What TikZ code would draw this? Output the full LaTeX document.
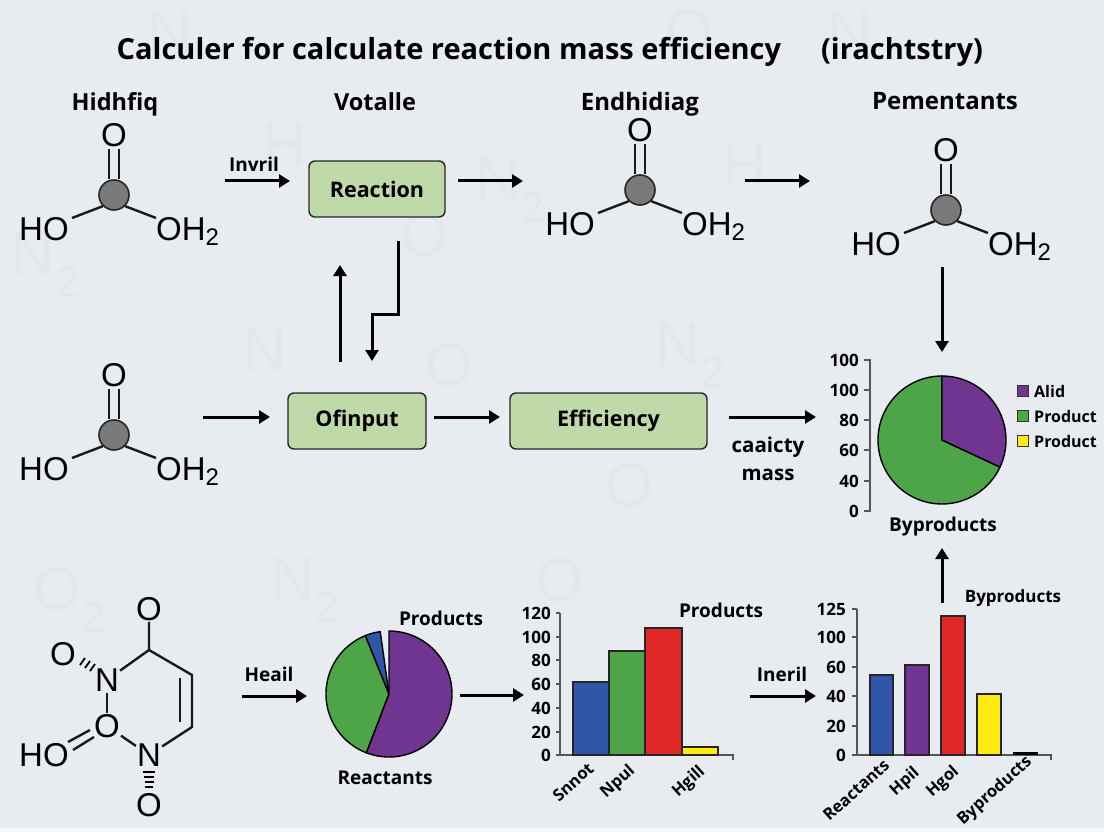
\documentclass[tikz,border=0pt]{standalone}
\usepackage{fontspec}
\setmainfont{Open Sans}
\newfontfamily\atomfont{Liberation Sans}
\usetikzlibrary{arrows.meta}
\definecolor{bgc}{HTML}{E8ECF0}
\definecolor{ghost}{HTML}{E3E7EB}
\definecolor{boxg}{HTML}{BFD9A8}
\definecolor{pur}{HTML}{6F3590}
\definecolor{grn}{HTML}{4EA548}
\definecolor{redd}{HTML}{E02828}
\definecolor{blu}{HTML}{2F56A8}
\definecolor{yel}{HTML}{FFEB10}
\definecolor{axisc}{HTML}{555555}
\definecolor{atomc}{HTML}{7A7A7A}
\tikzset{
  x=1pt,y=-1pt,
  arr/.style={line width=3pt,draw=black,-{Triangle[length=11pt,width=13pt]}},
  flowbox/.style={draw=black!85,line width=1.4pt,fill=boxg,rounded corners=6pt,minimum height=56pt,font=\fontsize{21.5}{24}\selectfont\bfseries,inner sep=0pt},
  lab/.style={font=\fontsize{19}{21}\selectfont\bfseries,inner sep=0pt},
  small/.style={font=\fontsize{17}{19}\selectfont\bfseries,inner sep=0pt},
  head/.style={font=\fontsize{23.5}{26}\selectfont\bfseries,inner sep=0pt,anchor=base},
  titletxt/.style={font=\fontsize{29}{32}\selectfont\bfseries,inner sep=0pt,anchor=base},
  tick/.style={font=\fontsize{17}{19}\selectfont\bfseries,inner sep=0pt,anchor=east},
  legtxt/.style={font=\fontsize{16}{18}\selectfont\bfseries,inner sep=0pt,anchor=west},
  rot/.style={font=\fontsize{16.5}{18}\selectfont\bfseries,inner sep=0pt,rotate=42},
  atom/.style={font=\atomfont\fontsize{33}{35}\selectfont,inner sep=1pt},
  bond/.style={line width=2.4pt,draw=black!90},
  ghosttxt/.style={font=\atomfont\fontsize{62}{64}\selectfont,text=ghost,inner sep=0pt},
  bar/.style={draw=black!85,line width=1.2pt},
  axisl/.style={draw=axisc,line width=1.2pt},
  carbmol/.pic={
    \node[circle,draw=black!85,line width=1.6pt,fill=atomc,minimum size=30pt,inner sep=0pt] (-c) at (0,0) {};
    \node[atom] (-o) at (0,-60) {O};
    \node[atom] (-l) at (-70,34) {HO};
    \node[atom,anchor=west] (-r) at (41,36) {OH\raisebox{-5pt}{\fontsize{24}{24}\selectfont 2}};
    \draw[bond] ([xshift=-5pt]-c.north) -- ([xshift=-5pt,yshift=-1pt]-o.south);
    \draw[bond] ([xshift=5pt]-c.north) -- ([xshift=5pt,yshift=-1pt]-o.south);
    \draw[bond] (-c.south west) -- (-42,23);
    \draw[bond] (-c.south east) -- (42,23);
  }
}
\begin{document}
\begin{tikzpicture}
\useasboundingbox (0,0) rectangle (1104,832);
\fill[bgc] (0,0) rectangle (1104,832);
\fill[white!50!bgc] (0,828) rectangle (1104,832);
% ghost watermark
\foreach \gid/\gx/\gy/\gt in {g1/170/32/N,g2/45/265/N\textsubscript{2},g3/265/350/N,g4/450/365/O,g5/690/355/N\textsubscript{2},g6/70/600/O\textsubscript{2},g7/305/590/N\textsubscript{2},g8/630/485/O,g9/510/190/N\textsubscript{2},g10/425/235/O,g11/285/145/H,g12/745/165/H,g13/850/32/N,g14/560/580/O,g15/690/32/O}
  \node[ghosttxt] (\gid) at (\gx,\gy) {\gt};
% title
\node[titletxt] (title) at (449,60) {Calculer for calculate reaction mass efficiency};
\node[titletxt] (title2) at (902,60) {(irachtstry)};
% headings
\node[head] (h1) at (115,111) {Hidhfiq};
\node[head] (h2) at (375,111) {Votalle};
\node[head,font=\fontsize{24}{26}\selectfont\bfseries] (h3) at (640,111) {Endhidiag};
\node[head,font=\fontsize{24}{26}\selectfont\bfseries] (h4) at (945,110) {Pementants};
% molecules
\pic (m1) at (114,195) {carbmol};
\pic (m2) at (640,190) {carbmol};
\pic (m3) at (946,210) {carbmol};
\pic (m4) at (114,435) {carbmol};
% boxes
\node[flowbox,minimum width=136pt] (reaction) at (377,189) {Reaction};
\node[flowbox,minimum width=138pt] (ofinput) at (357,421) {Ofinput};
\node[flowbox,minimum width=197pt] (eff) at (608.5,421) {Efficiency};
% free ends
\coordinate (a1s) at (225,181); \coordinate (a1e) at (290,181);
\coordinate (a2s) at (458,181); \coordinate (a2e) at (523,181);
\coordinate (a3s) at (745,181); \coordinate (a3e) at (810,181);
\coordinate (a4s) at (942,267); \coordinate (a4e) at (942,352);
\coordinate (a5s) at (340,362); \coordinate (a5e) at (340,265);
\coordinate (a6s) at (398,241); \coordinate (a6a) at (398,314); \coordinate (a6b) at (372,314); \coordinate (a6e) at (372,361);
\coordinate (a7s) at (203,417); \coordinate (a7e) at (270,417);
\coordinate (a8s) at (434,417); \coordinate (a8e) at (500,417);
\coordinate (a9s) at (729,417); \coordinate (a9e) at (816,417);
\coordinate (a10s) at (942,603); \coordinate (a10e) at (942,548);
\coordinate (a11s) at (242,696); \coordinate (a11e) at (307,696);
\coordinate (a12s) at (460,695); \coordinate (a12e) at (524,695);
\coordinate (a13s) at (750,696); \coordinate (a13e) at (816,696);
\draw[arr] (a1s) -- (a1e);
\draw[arr] (a2s) -- (a2e);
\draw[arr] (a3s) -- (a3e);
\draw[arr] (a4s) -- (a4e);
\draw[arr] (a5s) -- (a5e);
\draw[arr] (a6s) -- (a6a) -- (a6b) -- (a6e);
\draw[arr] (a7s) -- (a7e);
\draw[arr] (a8s) -- (a8e);
\draw[arr] (a9s) -- (a9e);
\draw[arr] (a10s) -- (a10e);
\draw[arr] (a11s) -- (a11e);
\draw[arr] (a12s) -- (a12e);
\draw[arr] (a13s) -- (a13e);
% arrow labels
\node[lab] (linv) at (254,164) {Invril};
\node[lab] (lheail) at (269,674) {Heail};
\node[lab] (liner) at (782,674) {Ineril};
\node[lab,font=\fontsize{20.5}{22}\selectfont\bfseries] (lcap) at (768,447) {caaicty};
\node[lab,font=\fontsize{20.5}{22}\selectfont\bfseries] (lmass) at (768,475) {mass};
% pie top right
\draw[axisl] (864,360) -- (870,360) -- (870,511) -- (864,511);
\foreach \tid/\ty/\tt in {p1/360/100,p2/390/100,p3/420/80,p4/450/60,p5/481/40,p6/511/0}{
  \draw[axisl] (864,\ty) -- (870,\ty);
  \node[tick] (\tid) at (859,\ty) {\tt};
}
\begin{scope}[shift={(942,440)},y=1pt]
  \filldraw[fill=grn,draw=black,line width=1.4pt] (0,0) -- (90:64) arc[start angle=90,end angle=335,radius=64] -- cycle;
  \filldraw[fill=pur,draw=black,line width=1.4pt] (0,0) -- (90:64) arc[start angle=90,end angle=-25,radius=64] -- cycle;
\end{scope}
\foreach \lid/\ly/\lc/\lt in {l1/391/pur/Alid,l2/416/grn/Product,l3/441/yel/Product}{
  \node[draw=black!80,line width=1pt,fill=\lc,minimum size=11pt,inner sep=0pt] (\lid s) at (1023,\ly) {};
  \node[legtxt] (\lid) at (1034,\ly) {\lt};
}
\node[lab] (byp1) at (943,527) {Byproducts};
% lower molecule
\node[atom] (o1) at (149,609) {O};
\node[atom] (o2) at (63,654) {O};
\node[atom] (n1) at (107,680) {N};
\node[atom] (o3) at (107,726) {O};
\node[atom] (ho) at (44,755) {HO};
\node[atom] (n2) at (149,755) {N};
\node[atom] (o4) at (149,805) {O};
\coordinate (c1) at (149,650);
\coordinate (c2) at (192,675);
\coordinate (c3) at (192,727);
\coordinate (d1a) at (68,742); \coordinate (d1b) at (90,730);
\coordinate (d2a) at (73,750); \coordinate (d2b) at (94,737);
\draw[bond] (o1) -- (c1) -- (c2) -- (c3) -- (n2);
\draw[bond] (c1) -- (n1);
\draw[bond] (180,678) -- (180,722);
\draw[bond] (n1) -- (o3);
\draw[bond] (o3) -- (n2);
\draw[bond] (d1a) -- (d1b);
\draw[bond] (d2a) -- (d2b);
\foreach \hy/\hw in {772/6,777/5,782/4.5,787/4}
  \draw[line width=1.8pt] (149-\hw,\hy) -- (149+\hw,\hy);
\draw[line width=1.8pt] (80,665) -- (85,658);
\draw[line width=1.8pt] (85,668) -- (90,661);
\draw[line width=1.8pt] (90,671) -- (95,664);
% small pie
\begin{scope}[shift={(389,694)},y=1pt]
  \filldraw[fill=grn,draw=black,line width=1.4pt] (0,0) -- (249:63) arc[start angle=249,end angle=112,radius=63] -- cycle;
  \filldraw[fill=blu,draw=black,line width=1.4pt] (0,0) -- (112:63) arc[start angle=112,end angle=98,radius=63] -- cycle;
  \filldraw[fill=pur,draw=black,line width=1.4pt] (0,0) -- (90:63) arc[start angle=90,end angle=-111,radius=63] -- cycle;
\end{scope}
\node[lab] (pr1) at (441,618) {Products};
\node[lab] (re1) at (385,778) {Reactants};
% bar chart 1
\foreach \bid/\ty/\tt in {b1/613/120,b2/637/100,b3/660/80,b4/684/60,b5/708/40,b6/732/20,b7/755/0}{
  \draw[axisl] (556,\ty) -- (560,\ty);
  \node[tick] (\bid) at (551,\ty) {\tt};
}
\draw[axisl] (560,613) -- (560,755);
\draw[axisl] (556,755) -- (733,755) -- (733,760);
\filldraw[bar,fill=blu] (573,755) rectangle (609,682);
\filldraw[bar,fill=grn] (609,755) rectangle (645,651);
\filldraw[bar,fill=redd] (645,755) rectangle (682,628);
\filldraw[bar,fill=yel] (682,755) rectangle (718,747);
\node[lab] (pr2) at (721,610) {Products};
\node[rot] (x1) at (573,782) {Snnot};
\node[rot] (x2) at (618,782) {Npul};
\node[rot] (x3) at (689,782) {Hgill};
% bar chart 2
\foreach \cid/\ty/\tt in {c11/609/125,c12/637/100,c13/667/60,c14/696/40,c15/726/20,c16/755/0}{
  \draw[axisl] (852,\ty) -- (857,\ty);
  \node[tick] (\cid) at (846,\ty) {\tt};
}
\draw[axisl] (857,609) -- (857,755);
\draw[axisl] (852,755) -- (1051,755) -- (1051,760);
\filldraw[bar,fill=blu] (870,755) rectangle (893,675);
\filldraw[bar,fill=pur] (905,755) rectangle (929,665);
\filldraw[bar,fill=redd] (941,755) rectangle (965,616);
\filldraw[bar,fill=yel] (977,755) rectangle (1001,694);
\fill[black] (1013,755) rectangle (1038,752);
\node[small] (byp2) at (1013,598) {Byproducts};
\node[rot] (y1) at (856,790) {Reactants};
\node[rot] (y2) at (905,782) {Hpil};
\node[rot] (y3) at (943,782) {Hgol};
\node[rot] (y4) at (995,791) {Byproducts};
\end{tikzpicture}
\end{document}
